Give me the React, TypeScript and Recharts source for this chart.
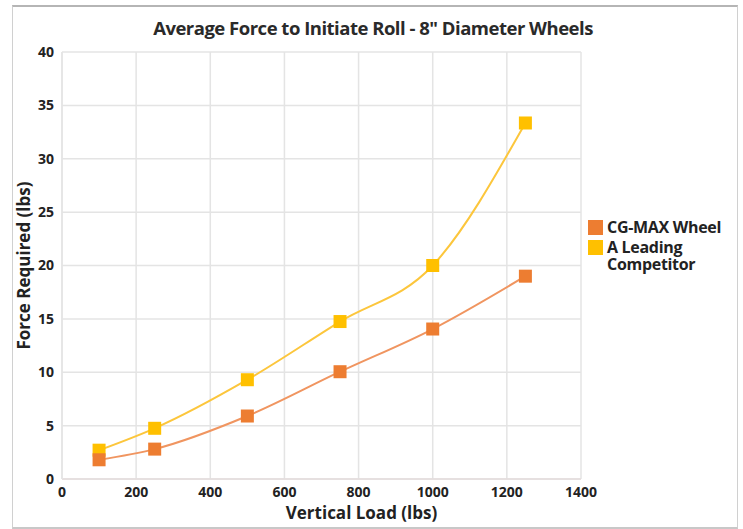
import React from "react";
import {
  LineChart,
  Line,
  XAxis,
  YAxis,
  CartesianGrid,
} from "recharts";

const loads = [100, 250, 500, 750, 1000, 1250];
const cgMax = [1.8, 2.8, 5.9, 10.05, 14.05, 19.0];
const competitor = [2.7, 4.75, 9.3, 14.75, 20.0, 33.35];
const xTicks = [0, 200, 400, 600, 800, 1000, 1200, 1400];
const yTicks = [0, 5, 10, 15, 20, 25, 30, 35, 40];

const ORANGE = "#ED7D31";
const GOLD = "#FFC000";

const data = loads.map((load, i) => ({
  load,
  cg: cgMax[i],
  comp: competitor[i],
}));

const font = "'Open Sans', sans-serif";
const tickStyle = { fill: "#222", fontSize: 14, fontWeight: 700, fontFamily: font };
const labelStyle = { fill: "#222", fontSize: 17, fontWeight: 700, fontFamily: font };

const squareDot = (color: string) => (props: any) => {
  const { cx, cy, index } = props;
  if (cx == null || cy == null) return <g key={index} />;
  return (
    <rect
      key={`sq-${index}`}
      x={cx - 6.5}
      y={cy - 6.5}
      width={13}
      height={13}
      fill={color}
    />
  );
};

const swatch = (color: string) => (
  <span
    style={{
      display: "inline-block",
      flex: "0 0 15px",
      width: 15,
      height: 15,
      background: color,
      marginRight: 4,
      marginTop: 1,
    }}
  />
);

const App: React.FC = () => {
  return (
    <div
      style={{
        position: "absolute",
        left: 0,
        top: 0,
        width: 743,
        height: 529,
        background: "#fff",
        fontFamily: font,
      }}
    >
      <div
        style={{
          position: "absolute",
          left: 12,
          top: 5,
          width: 724,
          height: 520,
          borderTop: "2px solid #b5b5b5",
          borderLeft: "1px solid #d0d0d0",
          borderRight: "1px solid #d0d0d0",
          borderBottom: "2px solid #c8c8c8",
        }}
      />
      <div
        style={{
          position: "absolute",
          left: 0,
          top: 15,
          width: 746,
          textAlign: "center",
          fontSize: 18.5,
          fontWeight: 700,
          color: "#2a2a2a",
          letterSpacing: -0.5,
        }}
      >
        Average Force to Initiate Roll - 8" Diameter Wheels
      </div>
      <LineChart
        width={743}
        height={529}
        data={data}
        margin={{ top: 52, right: 162, bottom: 20, left: 20 }}
        style={{ position: "absolute", left: 0, top: 0 }}
      >
        <CartesianGrid stroke="#e4e4e4" strokeWidth={1.5} />
        <XAxis
          dataKey="load"
          type="number"
          domain={[0, 1400]}
          ticks={xTicks}
          height={30}
          tick={tickStyle}
          tickLine={false}
          axisLine={{ stroke: "#e4dcdc", strokeWidth: 1.5 }}
          label={{
            value: "Vertical Load (lbs)",
            position: "bottom",
            offset: -2,
            dx: 40,
            style: labelStyle,
          }}
        />
        <YAxis
          type="number"
          domain={[0, 40]}
          ticks={yTicks}
          width={42}
          tick={tickStyle}
          tickLine={false}
          axisLine={{ stroke: "#e4e4e4", strokeWidth: 1.5 }}
          label={{
            value: "Force Required (lbs)",
            angle: -90,
            position: "insideLeft",
            offset: 4,
            style: { ...labelStyle, textAnchor: "middle" },
          }}
        />
        <Line
          type="monotone"
          dataKey="comp"
          stroke="#FCC63C"
          strokeWidth={2}
          dot={squareDot(GOLD)}
          isAnimationActive={false}
        />
        <Line
          type="monotone"
          dataKey="cg"
          stroke="#F09560"
          strokeWidth={2}
          dot={squareDot(ORANGE)}
          isAnimationActive={false}
        />
      </LineChart>
      <div
        style={{
          position: "absolute",
          left: 588,
          top: 219,
          fontSize: 16,
          fontWeight: 700,
          color: "#222",
          lineHeight: "17px",
          letterSpacing: -0.3,
        }}
      >
        <div style={{ display: "flex", alignItems: "flex-start", marginBottom: 3 }}>
          {swatch(ORANGE)}
          <div>CG-MAX Wheel</div>
        </div>
        <div style={{ display: "flex", alignItems: "flex-start" }}>
          {swatch(GOLD)}
          <div>
            <div style={{ height: 17 }}>A Leading</div>
            <div style={{ height: 17 }}>Competitor</div>
          </div>
        </div>
      </div>
    </div>
  );
};

export default App;
